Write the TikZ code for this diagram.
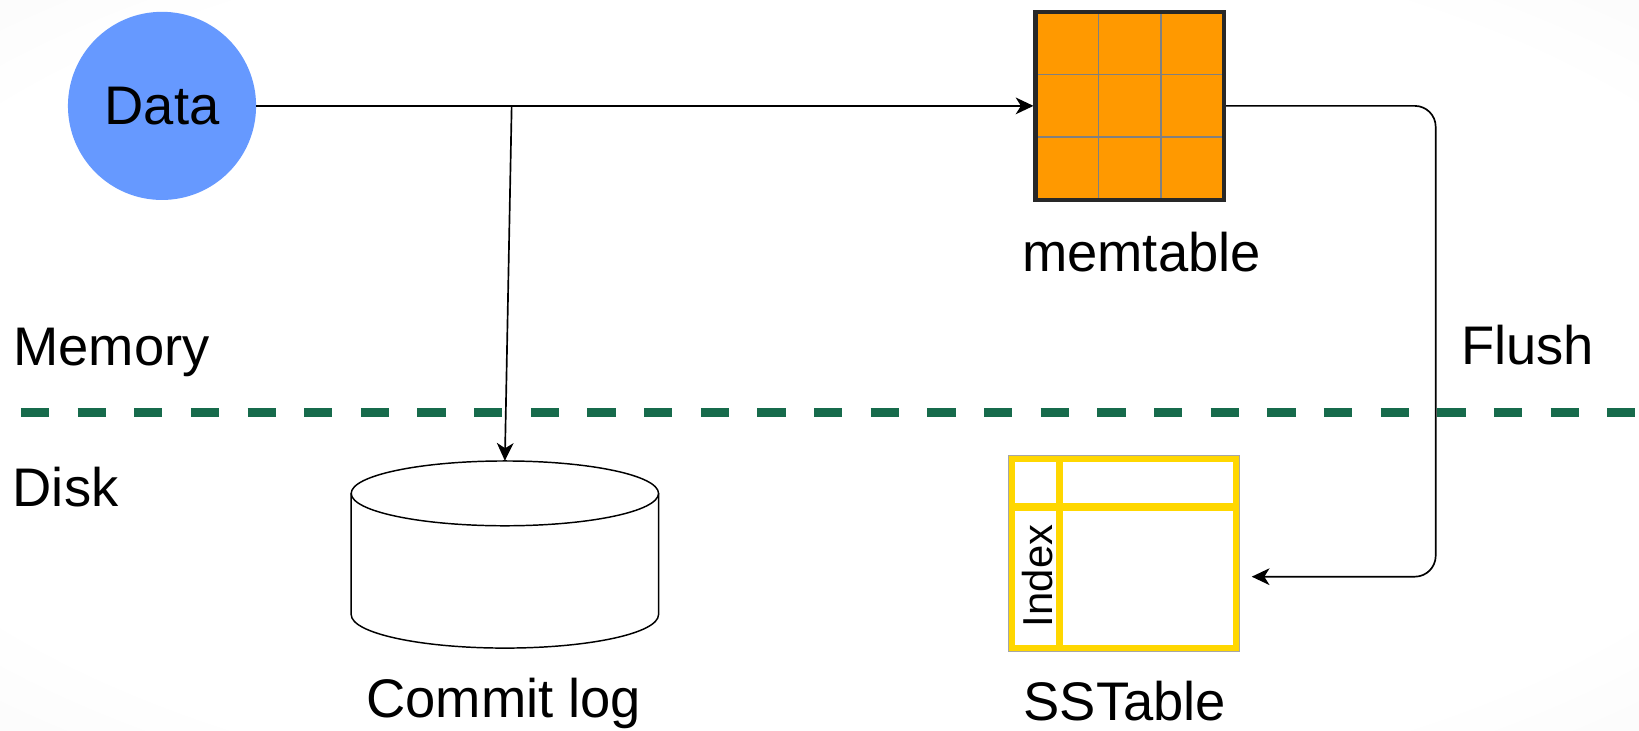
\documentclass[tikz,border=0pt]{standalone}
\usepackage{fontspec}
\setmainfont{Liberation Sans}
\usetikzlibrary{arrows.meta}
\definecolor{databg}{RGB}{102,153,255}
\definecolor{memorange}{RGB}{255,153,0}
\definecolor{memborder}{RGB}{40,40,40}
\definecolor{gridgray}{RGB}{128,128,128}
\definecolor{sstyellow}{RGB}{255,215,0}
\definecolor{sepgreen}{RGB}{23,107,76}
\pgfdeclareradialshading{bgshade}{\pgfpoint{0bp}{0bp}}{color(0bp)=(white); color(30bp)=(white); color(50bp)=(black!5); color(71bp)=(black!8)}
\begin{document}
\begin{tikzpicture}[x=1pt,y=-1pt,
  conn/.style={line width=1.6pt,-{Stealth[length=17pt,width=16pt,inset=5pt]}},
  lbl/.style={inner sep=0pt,font=\fontsize{52}{60}\selectfont},
  idxlbl/.style={inner sep=0pt,font=\fontsize{40}{48}\selectfont},
  gridln/.style={gridgray,line width=1.5pt},
  yel/.style={sstyellow},
  cyl/.style={black,line width=1.4pt},
  sepline/.style={sepgreen,line width=9pt,dash pattern=on 27pt off 27.2pt}
]
\useasboundingbox (0,0) rectangle (1568,699);
\shade[shading=bgshade] (0,0) rectangle (1568,699);

% separator
\draw[sepline] (20,394.8) -- (1568,394.8);

% Data
\node[circle,fill=databg,minimum size=180pt,inner sep=0pt,lbl] (data) at (155,101.3) {Data};

% memtable
\node[draw=memborder,line width=4.2pt,fill=memorange,minimum width=180pt,minimum height=180pt,inner sep=0pt] (mem) at (1080.8,101.3) {};
\foreach \d in {-30,30} {
  \draw[gridln] ([shift={(\d,-87.8)}]mem.center) -- ([shift={(\d,87.8)}]mem.center);
  \draw[gridln] ([shift={(-87.8,\d)}]mem.center) -- ([shift={(87.8,\d)}]mem.center);
}
\node[lbl,anchor=base] (memlbl) at (1092,260) {memtable};

% commit log cylinder
\node[inner sep=0pt,minimum width=294pt,minimum height=179pt] (clog) at (483,530.5) {};
\fill[white] (336,472) -- (336,588) arc[start angle=180,end angle=0,x radius=147,y radius=32] -- (630,472) -- cycle;
\draw[cyl] (336,472) -- (336,588) arc[start angle=180,end angle=0,x radius=147,y radius=32] -- (630,472);
\draw[cyl,fill=white] (483,472) ellipse[x radius=147,y radius=31];
\node[lbl,anchor=base] (cloglbl) at (482,686) {Commit log};

% SSTable
\fill[white] (964.6,436) rectangle (1185.6,623.5);
\draw[yel,line width=6.4pt] (967.8,439.2) rectangle (1182.4,620.3);
\draw[yel,line width=7.6pt] (967.8,484.7) -- (1182.4,484.7);
\draw[yel,line width=6.4pt] (1013.4,439.2) -- (1013.4,620.3);
\node[draw=black!35,line width=0.8pt,minimum width=221pt,minimum height=187.5pt,inner sep=0pt,outer sep=0pt] (sst) at (1075.1,529.75) {};
\node[idxlbl,rotate=90] (idx) at (992.6,551) {Index};
\node[lbl,anchor=base] (sstlbl) at (1076,689) {SSTable};

% side labels
\node[lbl,anchor=base west] (memory) at (12.5,350) {Memory};
\node[lbl,anchor=base west] (disk) at (12,485) {Disk};
\node[lbl,anchor=base west] (flush) at (1397.5,349) {Flush};

% connectors
\coordinate (j) at (489.5,101.3);
\coordinate (fcorner) at (1373.5,551.7);
\coordinate (flend) at (1197.5,551.7);
\draw[conn] (data.east) -- (mem.west);
\draw[conn] (j) -- (clog.north);
\draw[conn,rounded corners=20pt] (mem.east) -| (fcorner) -- (flend);
\end{tikzpicture}
\end{document}
